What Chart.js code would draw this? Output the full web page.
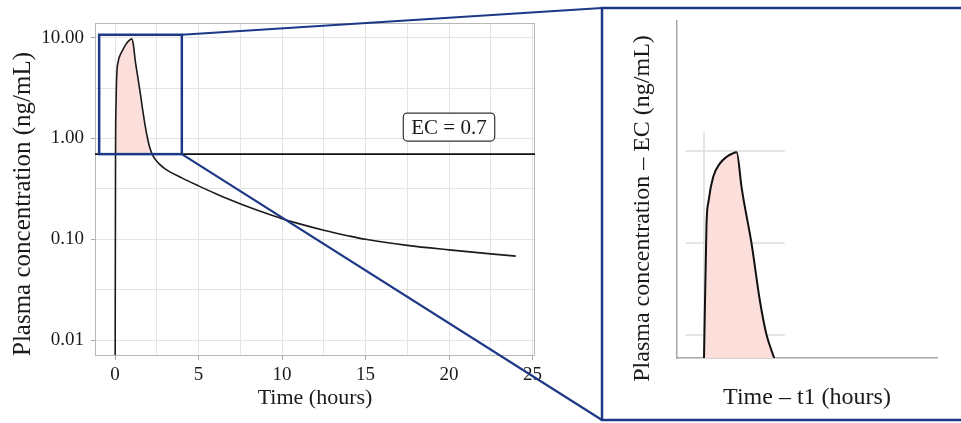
<!DOCTYPE html>
<html>
<head>
<meta charset="utf-8">
<script src="https://cdn.jsdelivr.net/npm/chart.js@4.4.0/dist/chart.umd.min.js"></script>
<style>
  body { margin: 0; background: #fff; }
  #wrap { position: relative; width: 961px; height: 423px; }
  canvas { position: absolute; left: 0; top: 0; }
</style>
</head>
<body>
<div id="wrap">
  <canvas id="main" width="961" height="423"></canvas>
  <canvas id="inset" width="961" height="423"></canvas>
</div>
<script>
// concentration - time profile (hours, ng/mL); 0.001 stands for ~0 at dose time (log axis)
const times = [0, 0.03, 0.06, 0.1, 0.2, 0.3, 0.45, 0.65, 0.85, 1.0, 1.1, 1.2, 1.35, 1.5, 1.65, 1.8, 1.95, 2.1, 2.3, 2.6, 3, 4, 5, 6, 7, 8, 9, 10, 11, 12.5, 14, 15, 17.5, 20, 22.5, 24];
const conc = [0.001, 0.7, 2.2, 4.2, 5.9, 6.7, 7.5, 8.6, 9.4, 9.75, 8.5, 6.1, 4.2, 2.9, 1.95, 1.35, 1.0, 0.79, 0.66, 0.57, 0.5, 0.407, 0.339, 0.285, 0.243, 0.209, 0.182, 0.16, 0.143, 0.123, 0.108, 0.1, 0.087, 0.0785, 0.0716, 0.0681];
const ecValue = 0.7;
const ecLabelAt = [20, 1.3];

const xGrid = [0, 2.5, 5, 7.5, 10, 12.5, 15, 17.5, 20, 22.5, 25];
const xLabels = [0, 5, 10, 15, 20, 25];
const yGrid = [0.01, 0.0316, 0.1, 0.316, 1, 3.16, 10];
const yLabels = [0.01, 0.1, 1, 10];

// zoom window drawn on the left plot
const zoomX = [-0.95, 4];
const zoomY = [ecValue, 10.7];

// inset: time - t1 (hours) vs concentration - EC
const insetTime = [0, 0.07, 0.134, 0.26, 0.45, 0.64, 0.8, 0.93, 1.07, 1.13, 1.35, 1.59, 1.78, 2.0];
const insetConc = [0, 5.77, 6.86, 7.87, 8.45, 8.74, 8.88, 8.94, 7.43, 6.86, 5.02, 2.51, 1.02, 0];
const insetGridY = [1, 5, 9];
const insetGridX = [0];
const insetSpanX = [-0.53, 2.3];
const insetSpanY = [0, 9.8];

Chart.defaults.font.family = "'Liberation Serif', 'Times New Roman', serif";
Chart.defaults.color = '#1a1a1a';

const blue = '#1d3887';
const pink = '#fcdedb';

const overlay = {
  id: 'overlay',
  afterDatasetsDraw(chart) {
    const { ctx, chartArea: a, scales: { x, y } } = chart;
    ctx.save();
    // panel border
    ctx.strokeStyle = '#b8b8b8';
    ctx.lineWidth = 1;
    ctx.strokeRect(a.left + 0.5, a.top + 0.5, a.width - 1, a.height - 1);
    // EC threshold
    const ey = y.getPixelForValue(ecValue);
    ctx.strokeStyle = '#111';
    ctx.lineWidth = 1.6;
    ctx.beginPath();
    ctx.moveTo(a.left, ey);
    ctx.lineTo(a.right, ey);
    ctx.stroke();
    // zoom box
    const bx0 = x.getPixelForValue(zoomX[0]);
    const bx1 = x.getPixelForValue(zoomX[1]);
    const byTop = y.getPixelForValue(zoomY[1]);
    const byBot = y.getPixelForValue(zoomY[0]);
    ctx.strokeStyle = blue;
    ctx.lineWidth = 2.5;
    ctx.strokeRect(bx0, byTop, bx1 - bx0, byBot - byTop);
    // frame of the inset + connectors
    const frame = { left: 602, top: 8, bottom: 420 };
    ctx.lineWidth = 2.2;
    ctx.beginPath();
    ctx.moveTo(bx1, byTop);
    ctx.lineTo(frame.left, frame.top);
    ctx.moveTo(bx1, byBot);
    ctx.lineTo(frame.left, frame.bottom);
    ctx.stroke();
    ctx.lineWidth = 2.5;
    ctx.strokeRect(frame.left, frame.top, 400, frame.bottom - frame.top);
    // EC label
    const txt = 'EC = ' + ecValue;
    ctx.font = "21px 'Liberation Serif', serif";
    const w = ctx.measureText(txt).width + 16;
    const h = 28;
    const cx = x.getPixelForValue(ecLabelAt[0]);
    const cy = y.getPixelForValue(ecLabelAt[1]);
    ctx.beginPath();
    ctx.roundRect(cx - w / 2, cy - h / 2, w, h, 4);
    ctx.fillStyle = '#fff';
    ctx.fill();
    ctx.strokeStyle = '#333';
    ctx.lineWidth = 1.2;
    ctx.stroke();
    ctx.fillStyle = '#1a1a1a';
    ctx.textAlign = 'center';
    ctx.textBaseline = 'middle';
    ctx.fillText(txt, cx, cy + 1);
    ctx.restore();
  }
};

new Chart(document.getElementById('main'), {
  type: 'line',
  data: {
    datasets: [{
      data: times.map((t, i) => ({ x: t, y: conc[i] })),
      borderColor: '#1a1a1a',
      borderWidth: 1.6,
      pointRadius: 0,
      cubicInterpolationMode: 'monotone',
      fill: { target: { value: ecValue }, above: pink, below: 'rgba(0,0,0,0)' }
    }]
  },
  options: {
    responsive: false,
    animation: false,
    events: [],
    layout: { padding: { left: 0, top: 23, right: 426, bottom: 0 } },
    plugins: { legend: { display: false }, tooltip: { enabled: false } },
    scales: {
      x: {
        type: 'linear',
        min: -1.2,
        max: 25.15,
        afterBuildTicks: s => { s.ticks = xGrid.map(v => ({ value: v })); },
        afterFit: s => { s.height = 67; },
        grid: {
          color: '#e4e4e4',
          tickLength: 4,
          tickColor: c => (c.tick && xLabels.includes(c.tick.value)) ? '#a8a8a8' : 'rgba(0,0,0,0)'
        },
        border: { display: false },
        ticks: {
          font: { size: 19 },
          padding: 4,
          maxRotation: 0,
          autoSkip: false,
          callback: v => xLabels.includes(v) ? String(v) : ''
        },
        title: { display: true, text: 'Time (hours)', font: { size: 22 }, padding: { top: 0, bottom: 12 } }
      },
      y: {
        type: 'logarithmic',
        min: 0.00695,
        max: 14,
        afterBuildTicks: s => { s.ticks = yGrid.map(v => ({ value: v })); },
        afterFit: s => { s.width = 95; },
        grid: {
          color: '#e4e4e4',
          tickLength: 4,
          tickColor: c => (c.tick && yLabels.includes(c.tick.value)) ? '#a8a8a8' : 'rgba(0,0,0,0)'
        },
        border: { display: false },
        ticks: {
          font: { size: 19 },
          padding: 7,
          autoSkip: false,
          callback: v => yLabels.includes(v) ? v.toFixed(2) : ''
        },
        title: { display: true, text: 'Plasma concentration (ng/mL)', font: { size: 25 }, align: 'start', padding: { top: 8 } }
      }
    }
  },
  plugins: [overlay]
});

const insetTitle = {
  id: 'insetTitle',
  afterDraw(chart) {
    const { ctx, chartArea: a } = chart;
    ctx.save();
    ctx.translate(a.left - 34, (a.top + a.bottom) / 2 + 19);
    ctx.rotate(-Math.PI / 2);
    ctx.font = "24px 'Liberation Serif', serif";
    ctx.fillStyle = '#1a1a1a';
    ctx.textAlign = 'center';
    ctx.textBaseline = 'middle';
    ctx.fillText('Plasma concentration \u2013 EC (ng/mL)', 0, 0);
    ctx.restore();
  }
};

const gridStyle = { borderColor: '#dcdcdc', borderWidth: 1.5, pointRadius: 0, fill: false, order: 1 };

new Chart(document.getElementById('inset'), {
  type: 'line',
  data: {
    datasets: [
      {
        data: insetTime.map((t, i) => ({ x: t, y: insetConc[i] })),
        borderColor: '#111',
        borderWidth: 2,
        pointRadius: 0,
        cubicInterpolationMode: 'monotone',
        fill: 'origin',
        backgroundColor: pink,
        order: 0
      },
      ...insetGridY.map(g => Object.assign({ data: insetSpanX.map(t => ({ x: t, y: g })) }, gridStyle)),
      ...insetGridX.map(g => Object.assign({ data: insetSpanY.map(c => ({ x: g, y: c })) }, gridStyle))
    ]
  },
  options: {
    responsive: false,
    animation: false,
    events: [],
    layout: { padding: { left: 600, top: 21, right: 24, bottom: 0 } },
    plugins: { legend: { display: false }, tooltip: { enabled: false } },
    scales: {
      x: {
        type: 'linear',
        min: -0.77,
        max: 6.64,
        afterFit: s => { s.height = 65; },
        grid: { display: false },
        ticks: { display: false },
        border: { color: '#a8a8a8', width: 1.5 },
        title: { display: true, text: 'Time \u2013 t1 (hours)', font: { size: 24 }, padding: { top: 0, bottom: 11 } }
      },
      y: {
        type: 'linear',
        min: 0,
        max: 14.65,
        afterFit: s => { s.width = 77; },
        grid: { display: false },
        ticks: { display: false },
        border: { color: '#a8a8a8', width: 1.5 }
      }
    }
  },
  plugins: [insetTitle]
});
</script>
</body>
</html>
